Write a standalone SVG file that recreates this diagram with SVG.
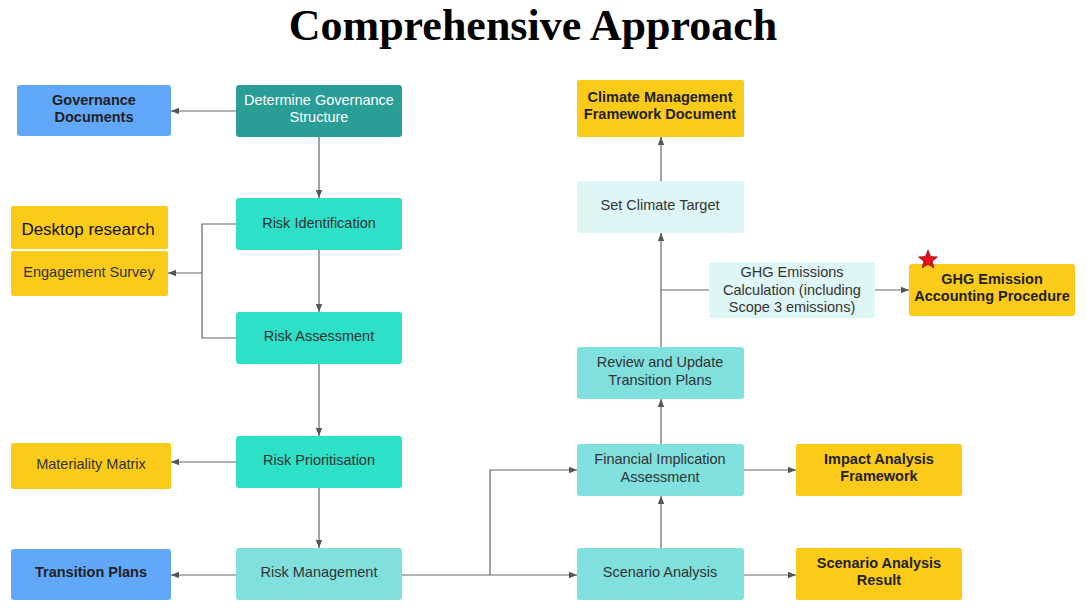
<svg xmlns="http://www.w3.org/2000/svg" width="1087" height="613" viewBox="0 0 1087 613">
<style>
text{font-family:"Liberation Sans",Arial,sans-serif;font-size:14.5px;fill:#333;text-anchor:middle}
.b{font-weight:bold;fill:#222}
.w{fill:#fff}
.c{fill:none;stroke:#666;stroke-width:1.2}
.y{fill:#fccb1a}.bl{fill:#62a8fa}.t{fill:#2ee0c8}.d{fill:#2a9d97}.l{fill:#7fe0de}.v{fill:#dff6f6}
</style>
<defs><marker id="a" viewBox="0 0 10 10" refX="10" refY="5" markerWidth="7" markerHeight="7" orient="auto"><path d="M0,1L10,5L0,9z" fill="#555"/></marker></defs>
<rect width="1087" height="613" fill="#fff"/>
<text x="533" y="40" style="font-family:'Liberation Serif',serif;font-size:44px;font-weight:bold;fill:#000">Comprehensive Approach</text>
<g id="connectors">
<path class="c" d="M236,111H171" marker-end="url(#a)"/>
<path class="c" d="M319,137V198" marker-end="url(#a)"/>
<path class="c" d="M319,250V312" marker-end="url(#a)"/>
<path class="c" d="M319,364V436" marker-end="url(#a)"/>
<path class="c" d="M319,488V548" marker-end="url(#a)"/>
<path class="c" d="M236,224H202V338H236"/>
<path class="c" d="M202,273H168" marker-end="url(#a)"/>
<path class="c" d="M236,462H171" marker-end="url(#a)"/>
<path class="c" d="M236,575H171" marker-end="url(#a)"/>
<path class="c" d="M402,575H577" marker-end="url(#a)"/>
<path class="c" d="M490,575V470H577" marker-end="url(#a)"/>
<path class="c" d="M661,548V496" marker-end="url(#a)"/>
<path class="c" d="M661,444V399" marker-end="url(#a)"/>
<path class="c" d="M661,347V233" marker-end="url(#a)"/>
<path class="c" d="M661,181V137" marker-end="url(#a)"/>
<path class="c" d="M661,290H709"/>
<path class="c" d="M875,290H909" marker-end="url(#a)"/>
<path class="c" d="M744,470H796" marker-end="url(#a)"/>
<path class="c" d="M744,575H796" marker-end="url(#a)"/>
</g>
<g id="gov-docs"><rect class="bl" x="17" y="85" width="154" height="51" rx="3"/><text class="b" x="94" y="105">Governance</text><text class="b" x="94" y="122">Documents</text></g>
<g id="determine"><rect class="d" x="236" y="85" width="166" height="52" rx="3"/><text class="w" x="319" y="105">Determine Governance</text><text class="w" x="319" y="122">Structure</text></g>
<g id="risk-id"><rect class="t" x="236" y="198" width="166" height="52" rx="3"/><text x="319" y="228">Risk Identification</text></g>
<g id="risk-assess"><rect class="t" x="236" y="312" width="166" height="52" rx="3"/><text x="319" y="341">Risk Assessment</text></g>
<g id="risk-prio"><rect class="t" x="236" y="436" width="166" height="52" rx="3"/><text x="319" y="465">Risk Prioritisation</text></g>
<g id="risk-mgmt"><rect class="l" x="236" y="548" width="166" height="52" rx="3"/><text x="319" y="577">Risk Management</text></g>
<g id="desktop"><rect class="y" x="11" y="206" width="157" height="43" rx="2"/><text x="88" y="235" style="font-size:17px;fill:#111">Desktop research</text></g>
<g id="survey"><rect class="y" x="11" y="251" width="157" height="45" rx="2"/><text x="89" y="277">Engagement Survey</text></g>
<g id="materiality"><rect class="y" x="11" y="443" width="160" height="46" rx="2"/><text x="91" y="469">Materiality Matrix</text></g>
<g id="transition"><rect class="bl" x="11" y="549" width="160" height="51" rx="3"/><text class="b" x="91" y="577">Transition Plans</text></g>
<g id="scenario"><rect class="l" x="577" y="548" width="167" height="52" rx="3"/><text x="660" y="577">Scenario Analysis</text></g>
<g id="fia"><rect class="l" x="577" y="444" width="167" height="52" rx="3"/><text x="660" y="464">Financial Implication</text><text x="660" y="482">Assessment</text></g>
<g id="review"><rect class="l" x="577" y="347" width="167" height="52" rx="3"/><text x="660" y="367">Review and Update</text><text x="660" y="385">Transition Plans</text></g>
<g id="ghg-calc"><rect class="v" x="709" y="262" width="166" height="56" rx="3"/><text x="792" y="277">GHG Emissions</text><text x="792" y="295">Calculation (including</text><text x="792" y="312">Scope 3 emissions)</text></g>
<g id="target"><rect class="v" x="577" y="181" width="167" height="52" rx="3"/><text x="660" y="210">Set Climate Target</text></g>
<g id="cmfd"><rect class="y" x="577" y="80" width="167" height="57" rx="2"/><text class="b" x="660" y="102">Climate Management</text><text class="b" x="660" y="119">Framework Document</text></g>
<g id="ghg-proc"><rect class="y" x="909" y="264" width="166" height="52" rx="3"/><text class="b" x="992" y="284">GHG Emission</text><text class="b" x="992" y="301">Accounting Procedure</text><polygon points="928,250 930.6,256.5 937.5,256.9 932.2,261.3 933.9,268 928,264.3 922.1,268 923.8,261.3 918.5,256.9 925.4,256.5" fill="#e8101a" stroke="#600" stroke-width="0.6"/></g>
<g id="impact"><rect class="y" x="796" y="444" width="166" height="52" rx="2"/><text class="b" x="879" y="464">Impact Analysis</text><text class="b" x="879" y="481">Framework</text></g>
<g id="result"><rect class="y" x="796" y="548" width="166" height="52" rx="2"/><text class="b" x="879" y="568">Scenario Analysis</text><text class="b" x="879" y="585">Result</text></g>
</svg>
